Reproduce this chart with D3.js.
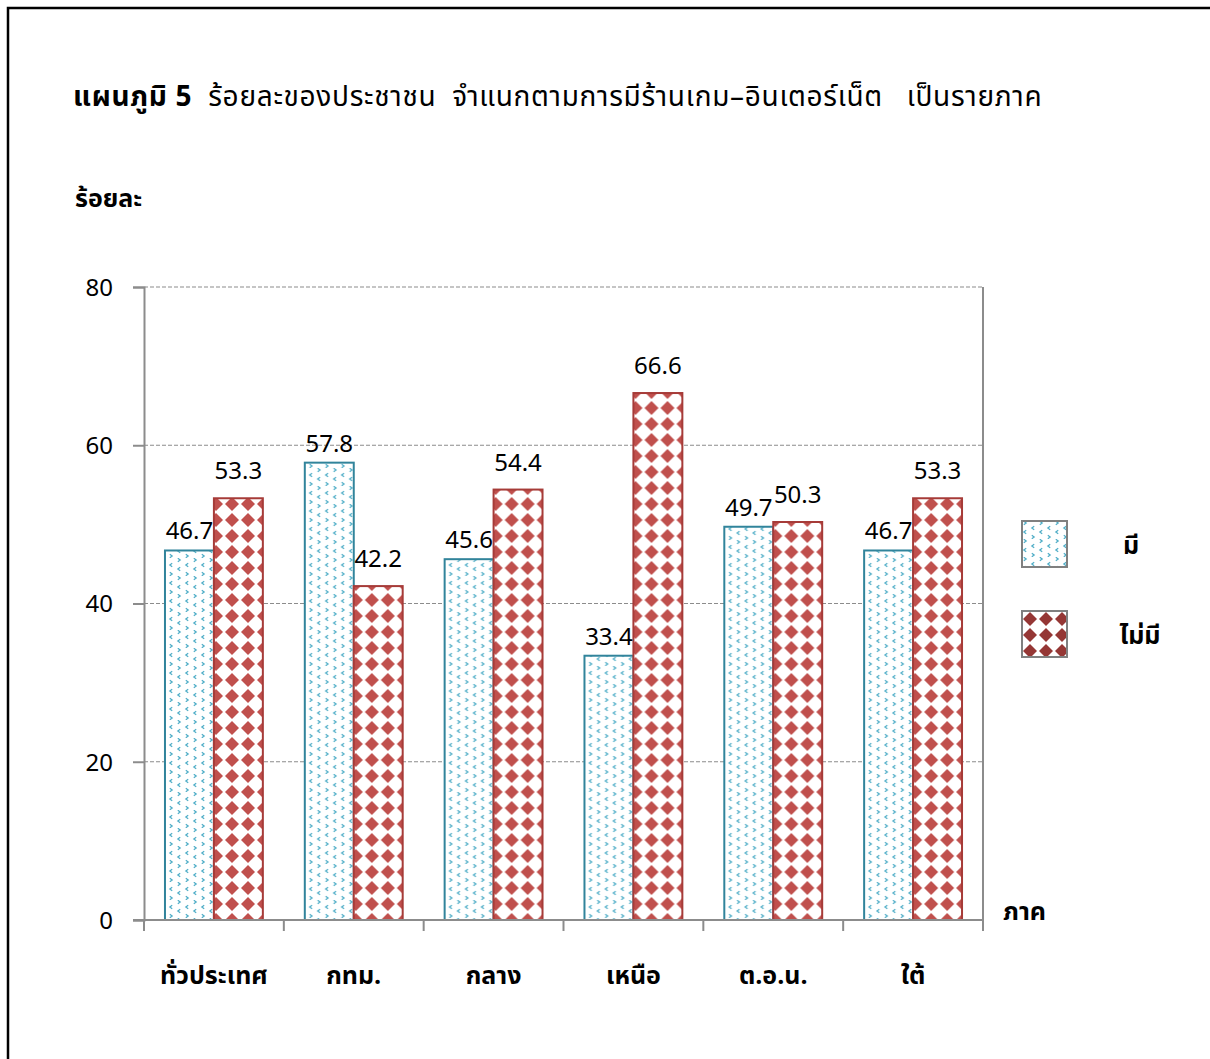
<!DOCTYPE html>
<html>
<head>
<meta charset="utf-8">
<script src="https://cdn.jsdelivr.net/npm/d3@7"></script>
<style>
  body { margin:0; background:#fff; }
  svg text { font-family: "Noto Sans Thai", "Leelawadee UI", Tahoma, "Noto Sans", "DejaVu Sans", sans-serif; fill:#000; }
</style>
</head>
<body>
<svg id="chart" width="1210" height="1059"></svg>
<script>
// data
var categories = ["ทั่วประเทศ", "กทม.", "กลาง", "เหนือ", "ต.อ.น.", "ใต้"];
var seriesNames = ["มี", "ไม่มี"];
var haveShop = [46.7, 57.8, 45.6, 33.4, 49.7, 46.7];
var noShop = [53.3, 42.2, 54.4, 66.6, 50.3, 53.3];
var yTicks = [0, 20, 40, 60, 80];

var svg = d3.select("#chart");
var defs = svg.append("defs");

// dotted chevron pattern (มี)
function chevronPattern(id, color){
    var p = defs.append("pattern").attr("id", id)
        .attr("patternUnits", "userSpaceOnUse").attr("width", 16).attr("height", 18);
    p.append("rect").attr("width", 16).attr("height", 18).attr("fill", "#fff");
    var marks = [[3,2,1],[11,7,-1],[3,11,-1],[11,16,1]];
    marks.forEach(function(m){
        var x = m[0], y = m[1], d = m[2];
        p.append("path")
            .attr("d", "M" + (x - d*1.2) + "," + (y-1.8) + " L" + (x + d*1.2) + "," + y + " L" + (x - d*1.2) + "," + (y+1.8))
            .attr("fill", "none").attr("stroke", color).attr("stroke-width", 1.2);
    });
}
// diamond pattern (ไม่มี)
function diamondPattern(id, color){
    var p = defs.append("pattern").attr("id", id)
        .attr("patternUnits", "userSpaceOnUse").attr("width", 16).attr("height", 16);
    p.append("rect").attr("width", 16).attr("height", 16).attr("fill", "#fff");
    p.append("path").attr("d", "M8,1 L15,8 L8,15 L1,8 Z").attr("fill", color);
}
chevronPattern("patHave", "#4BACC6");
diamondPattern("patNo", "#C0504D");
chevronPattern("patHaveLeg", "#4BACC6");
diamondPattern("patNoLeg", "#953735");

// outer frame
svg.append("path").attr("d", "M8,1059 L8,8 L1210,8")
    .attr("fill", "none").attr("stroke", "#000").attr("stroke-width", 2.5);

// title
var title = svg.append("text").attr("x", 73).attr("y", 106).attr("font-size", 28)
    .attr("letter-spacing", 0.7);
title.append("tspan").attr("font-weight", "bold").text("แผนภูมิ 5");
title.append("tspan").attr("xml:space", "preserve").text("  ร้อยละของประชาชน  จำแนกตามการมีร้านเกม–อินเตอร์เน็ต   เป็นรายภาค");

svg.append("text").attr("x", 75).attr("y", 207).attr("font-size", 25)
    .attr("font-weight", "bold").text("ร้อยละ");

var plotL = 144, plotR = 983, plotT = 287, plotB = 920;

var y = d3.scaleLinear().domain([0, 80]).range([plotB, plotT]);
var x = d3.scaleBand().domain(categories).range([plotL, plotR]);
var bw = x.bandwidth();
var xs = d3.scaleBand().domain(seriesNames).range([bw*0.15, bw*0.85]);

var g = svg.append("g");

// grid lines
g.selectAll(".grid").data(yTicks.filter(function(d){ return d > 0; }))
    .enter().append("line")
    .attr("x1", plotL).attr("x2", plotR)
    .attr("y1", function(d){ return y(d); }).attr("y2", function(d){ return y(d); })
    .attr("stroke", "#8c8c8c").attr("stroke-width", 1.2).attr("stroke-dasharray", "4,2");

// right border of plot
g.append("line").attr("x1", plotR).attr("x2", plotR).attr("y1", plotT).attr("y2", plotB + 11)
    .attr("stroke", "#8c8c8c").attr("stroke-width", 2);

// bars
var rows = categories.map(function(c, i){ return { cat: c, vals: [haveShop[i], noShop[i]] }; });
var fills = ["url(#patHave)", "url(#patNo)"];
var strokes = ["#31849B", "#A63B38"];

var groups = g.selectAll(".grp").data(rows).enter().append("g")
    .attr("transform", function(d){ return "translate(" + x(d.cat) + ",0)"; });

groups.selectAll("rect").data(function(d){ return d.vals; }).enter().append("rect")
    .attr("x", function(d, i){ return xs(seriesNames[i]); })
    .attr("width", xs.bandwidth())
    .attr("y", function(d){ return y(d); })
    .attr("height", function(d){ return plotB - y(d); })
    .attr("fill", function(d, i){ return fills[i]; })
    .attr("stroke", function(d, i){ return strokes[i]; })
    .attr("stroke-width", 2);

groups.selectAll(".lbl").data(function(d){ return d.vals; }).enter().append("text")
    .attr("x", function(d, i){ return xs(seriesNames[i]) + xs.bandwidth()/2; })
    .attr("y", function(d, i){ return y(d) - (i == 0 ? 11 : 19); })
    .attr("text-anchor", "middle").attr("font-size", 24)
    .style("font-family", "'Noto Sans', sans-serif")
    .text(function(d){ return d.toFixed(1); });

// y axis
var yAxis = d3.axisLeft(y).tickValues(yTicks).tickSize(11).tickPadding(20);
var ya = svg.append("g").attr("transform", "translate(" + plotL + ",0)").call(yAxis);
ya.select(".domain").attr("stroke", "#8c8c8c").attr("stroke-width", 2);
ya.selectAll(".tick line").attr("stroke", "#8c8c8c").attr("stroke-width", 2);
ya.selectAll(".tick text").attr("font-size", 24).attr("dy", "0.35em")
    .style("font-family", "'Noto Sans', sans-serif");

// x axis
var xa = svg.append("g").attr("transform", "translate(0," + plotB + ")");
xa.append("line").attr("x1", plotL - 11).attr("x2", plotR).attr("stroke", "#8c8c8c").attr("stroke-width", 2);
xa.selectAll(".xt").data(categories.concat([null])).enter().append("line")
    .attr("x1", function(d, i){ return plotL + i*bw; }).attr("x2", function(d, i){ return plotL + i*bw; })
    .attr("y1", 0).attr("y2", 11).attr("stroke", "#8c8c8c").attr("stroke-width", 2);
xa.selectAll(".xl").data(categories).enter().append("text")
    .attr("x", function(d){ return x(d) + bw/2; }).attr("y", 64)
    .attr("text-anchor", "middle").attr("font-size", 25).attr("font-weight", "bold")
    .text(function(d){ return d; });

svg.append("text").attr("x", 1003).attr("y", 920).attr("font-size", 25)
    .attr("font-weight", "bold").text("ภาค");

// legend
var legFills = ["url(#patHaveLeg)", "url(#patNoLeg)"];
var leg = svg.selectAll(".leg").data(seriesNames).enter().append("g")
    .attr("transform", function(d, i){ return "translate(1022," + (521 + i*90) + ")"; });
leg.append("rect").attr("width", 45).attr("height", 46)
    .attr("fill", function(d, i){ return legFills[i]; })
    .attr("stroke", "#808080").attr("stroke-width", 2);
leg.append("text").attr("x", function(d, i){ return i == 0 ? 109 : 118; }).attr("y", 33)
    .attr("text-anchor", "middle").attr("font-size", 25).attr("font-weight", "bold")
    .text(function(d){ return d; });
</script>
</body>
</html>
